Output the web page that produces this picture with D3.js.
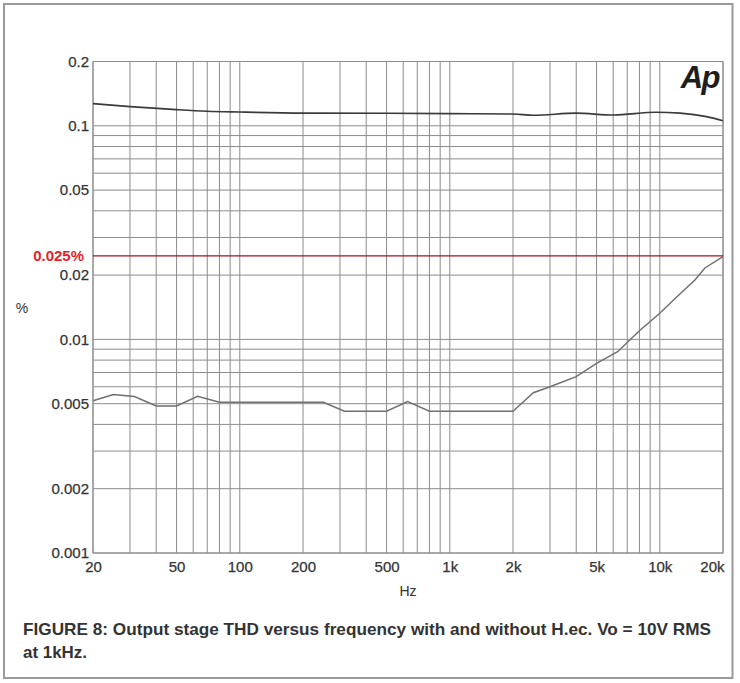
<!DOCTYPE html>
<html>
<head>
<meta charset="utf-8">
<script src="https://cdn.jsdelivr.net/npm/d3@7"></script>
<style>
  html, body { margin: 0; padding: 0; background: #fff; }
  svg { display: block; }
</style>
</head>
<body>
<svg id="chart" width="740" height="683"></svg>
<script>
// ---- Data ----
const upperFreq = [20, 30, 50, 70, 100, 200, 500, 1000, 2000, 2500, 4000, 6000, 9600, 12500, 16700, 20000];
const upperTHD  = [0.127, 0.123, 0.119, 0.117, 0.116, 0.1147, 0.1145, 0.114, 0.1136, 0.112, 0.1146, 0.1123, 0.1157, 0.1146, 0.1104, 0.1057];

const lowerFreq = [20, 25, 31.5, 40, 50, 63, 80, 250, 315, 500, 630, 800, 2000, 2500, 3000, 4000, 5000, 6300, 8000, 10000, 12000, 14700, 16400, 20000];
const lowerTHD  = [0.00516, 0.00552, 0.0054, 0.00488, 0.00488, 0.00542, 0.00508, 0.00508, 0.00461, 0.00461, 0.00511, 0.00461, 0.00461, 0.00563, 0.0060, 0.00669, 0.00773, 0.00876, 0.01098, 0.01325, 0.01574, 0.01897, 0.0216, 0.0244];

const xTickValues = [20, 50, 100, 200, 500, 1000, 2000, 5000, 10000, 20000];
const xTickLabels = ["20", "50", "100", "200", "500", "1k", "2k", "5k", "10k", "20k"];
const yTickValues = [0.2, 0.1, 0.05, 0.02, 0.01, 0.005, 0.002, 0.001];
const yTickLabels = ["0.2", "0.1", "0.05", "0.02", "0.01", "0.005", "0.002", "0.001"];
const limitValue = 0.025;
const limitLabel = "0.025%";
const xTitle = "Hz";
const yTitle = "%";
const captionLines = ["FIGURE 8: Output stage THD versus frequency with and without H.ec. Vo = 10V RMS", "at 1kHz."];

// ---- Layout ----
const svg = d3.select("#chart");
const L = 93, R = 723, T = 61.5, B = 553;
const x = d3.scaleLog().domain([20, 20000]).range([L, R]);
const y = d3.scaleLog().domain([0.001, 0.2]).range([B, T]);

// outer frame
svg.append("rect").attr("x", 4).attr("y", 4).attr("width", 728.5).attr("height", 674)
  .attr("fill", "#fff").attr("stroke", "#9a9a9a").attr("stroke-width", 2);

const grid = svg.append("g");
const gridColor = "#8c8c8c";
// vertical gridlines
x.ticks().filter(v => v >= 20 && v <= 20000).forEach(v => {
  grid.append("line").attr("x1", x(v)).attr("x2", x(v)).attr("y1", T).attr("y2", B)
    .attr("stroke", gridColor).attr("stroke-width", 1);
});
// horizontal gridlines
y.ticks().filter(v => v >= 0.001 && v <= 0.2).forEach(v => {
  grid.append("line").attr("x1", L).attr("x2", R).attr("y1", y(v)).attr("y2", y(v))
    .attr("stroke", gridColor).attr("stroke-width", 1);
});
grid.append("rect").attr("x", L).attr("y", T).attr("width", R - L).attr("height", B - T)
  .attr("fill", "none").attr("stroke", gridColor).attr("stroke-width", 1);

// axes labels
const font = "'Liberation Sans', Arial, Helvetica, sans-serif";
const yAxis = d3.axisLeft(y).tickValues(yTickValues).tickSize(0).tickPadding(4)
  .tickFormat((d, i) => yTickLabels[i]);
const gy = svg.append("g").attr("transform", `translate(${L},0)`).call(yAxis);
gy.select(".domain").remove();
gy.selectAll("text").attr("font-family", font).attr("font-size", 15).attr("fill", "#333")
  .attr("stroke", "#333").attr("stroke-width", 0.25);

const xAxis = d3.axisBottom(x).tickValues(xTickValues).tickSize(0).tickPadding(8)
  .tickFormat((d, i) => xTickLabels[i]);
const gx = svg.append("g").attr("transform", `translate(0,${B})`).call(xAxis);
gx.select(".domain").remove();
gx.selectAll("text").attr("font-family", font).attr("font-size", 15).attr("fill", "#333")
  .attr("stroke", "#333").attr("stroke-width", 0.25);
gx.selectAll(".tick").filter(d => d === 20000).select("text")
  .attr("text-anchor", "end").attr("x", 1);

svg.append("text").attr("x", (L + R) / 2).attr("y", 596).attr("text-anchor", "middle")
  .attr("font-family", font).attr("font-size", 14).attr("fill", "#333").text(xTitle);
svg.append("text").attr("x", 22).attr("y", 313).attr("text-anchor", "middle")
  .attr("font-family", font).attr("font-size", 14).attr("fill", "#333").text(yTitle);

// curves
const upper = upperFreq.map((f, i) => [f, upperTHD[i]]);
const lower = lowerFreq.map((f, i) => [f, lowerTHD[i]]);
svg.append("path").datum(upper)
  .attr("d", d3.line().x(d => x(d[0])).y(d => y(d[1])).curve(d3.curveMonotoneX))
  .attr("fill", "none").attr("stroke", "#3a3a3a").attr("stroke-width", 1.6);
svg.append("path").datum(lower)
  .attr("d", d3.line().x(d => x(d[0])).y(d => y(d[1])))
  .attr("fill", "none").attr("stroke", "#707070").attr("stroke-width", 1.5);

// limit line
svg.append("line").attr("x1", L).attr("x2", R).attr("y1", y(limitValue) + 1.5).attr("y2", y(limitValue) + 1.5)
  .attr("stroke", "#a3101c").attr("stroke-width", 1.2);
svg.append("text").attr("x", 84).attr("y", y(limitValue) + 1.5).attr("dy", "0.35em").attr("text-anchor", "end")
  .attr("font-family", font).attr("font-size", 15).attr("font-weight", "bold").attr("fill", "#e81e2a")
  .text(limitLabel);

// Ap logo
svg.append("text").attr("x", 719).attr("y", 88).attr("text-anchor", "end")
  .attr("font-family", font).attr("font-size", 31).attr("font-weight", "bold").attr("font-style", "italic")
  .attr("letter-spacing", -1.5).attr("fill", "#1e1e1e").text("Ap");

// caption
const capFont = "'Liberation Sans', Arial, sans-serif";
svg.append("text").attr("x", 23).attr("y", 634.5)
  .attr("font-family", capFont).attr("font-size", 16.5).attr("font-weight", "bold").attr("fill", "#333")
  .attr("textLength", 688).attr("lengthAdjust", "spacingAndGlyphs").text(captionLines[0]);
svg.append("text").attr("x", 23).attr("y", 658)
  .attr("font-family", capFont).attr("font-size", 16.5).attr("font-weight", "bold").attr("fill", "#333")
  .attr("textLength", 64).attr("lengthAdjust", "spacingAndGlyphs").text(captionLines[1]);
</script>
</body>
</html>
